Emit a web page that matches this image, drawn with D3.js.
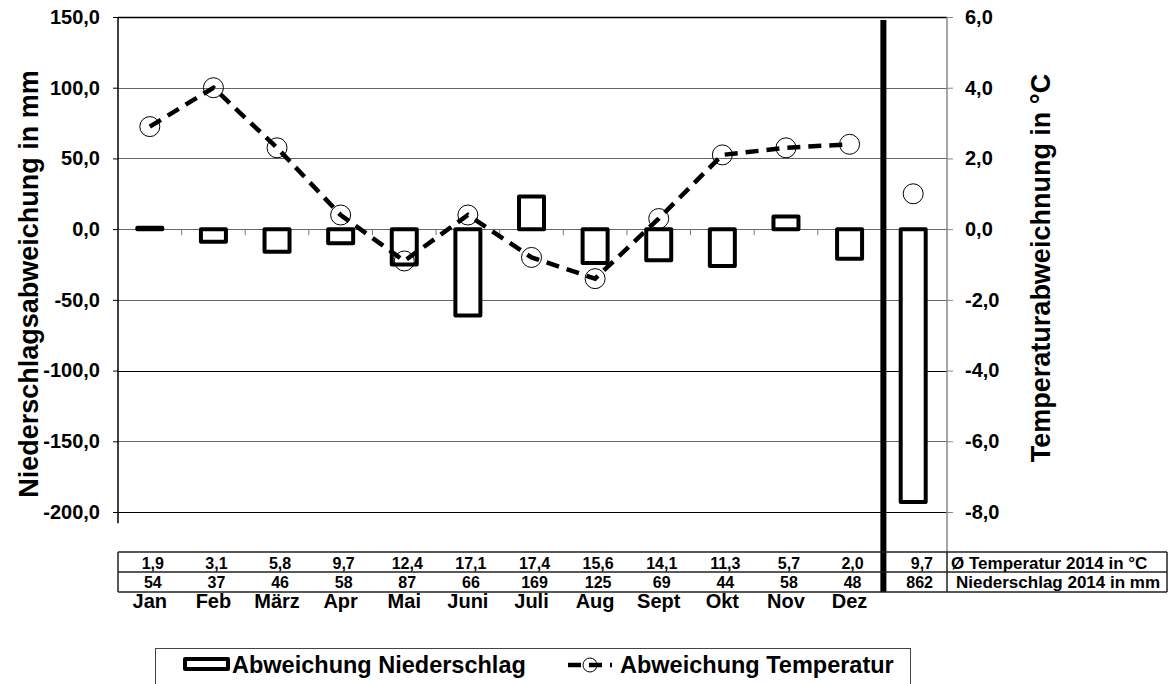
<!DOCTYPE html>
<html>
<head>
<meta charset="UTF-8">
<title>Niederschlag und Temperatur 2014</title>
<style>
  body { margin: 0; background: #fff; }
  svg { display: block; font-family: "Liberation Sans", Arial, sans-serif; }
  svg text { font-weight: bold; fill: #000; }
  .tick text { font-size: 20px; font-weight: bold; fill: #000; }
</style>
<script src="https://cdn.jsdelivr.net/npm/d3@7"></script>
</head>
<body>
<svg width="1172" height="684"></svg>
<script>
// monthly categories + annual column
var months = ["Jan", "Feb", "März", "Apr", "Mai", "Juni", "Juli", "Aug", "Sept", "Okt", "Nov", "Dez"];
var annualKey = "2014";

// deviations
var precipDev = [1, -9, -16, -10, -25, -61, 23, -24, -22, -26, 9, -21];
var precipDevYear = -193;
var tempDev = [2.9, 4.0, 2.3, 0.4, -0.9, 0.4, -0.8, -1.4, 0.3, 2.1, 2.3, 2.4];
var tempDevYear = 1.0;

// table rows under the chart
var tempMean = ["1,9", "3,1", "5,8", "9,7", "12,4", "17,1", "17,4", "15,6", "14,1", "11,3", "5,7", "2,0"];
var tempMeanYear = "9,7";
var precipSum = ["54", "37", "46", "58", "87", "66", "169", "125", "69", "44", "58", "48"];
var precipSumYear = "862";
var rowLabels = ["Ø Temperatur 2014 in °C", "Niederschlag 2014 in mm"];

var leftTicks = [150, 100, 50, 0, -50, -100, -150, -200];
var rightTicks = [6, 4, 2, 0, -2, -4, -6, -8];

var svg = d3.select("svg"),
    pLeft = 118, pRight = 947, pTop = 17, pBottom = 512;

var de = d3.formatLocale({decimal: ",", thousands: ".", grouping: [3], currency: ["", "€"], minus: "-"});
var fmt = de.format(".1f");

var cats = months.concat([annualKey]);
var x = d3.scaleBand().domain(cats).range([pLeft, 945]);
var yL = d3.scaleLinear().domain([-200, 150]).range([pBottom, pTop]);
var yR = d3.scaleLinear().domain([-8, 6]).range([pBottom, pTop]);

// gridlines
svg.append("g").selectAll("line")
    .data(leftTicks)
    .join("line")
    .attr("x1", pLeft).attr("x2", pRight)
    .attr("y1", d => Math.round(yL(d)) + 0.5).attr("y2", d => Math.round(yL(d)) + 0.5)
    .attr("stroke", d => (d === 150 || d === -100 || d === -200) ? "#000" : "#666")
    .attr("stroke-width", d => d === 150 ? 1.5 : 1);

// small ticks on the zero line at category borders
svg.append("g").selectAll("line")
    .data(months.slice(1))
    .join("line")
    .attr("x1", d => x(d)).attr("x2", d => x(d))
    .attr("y1", yL(0)).attr("y2", yL(0) + 6)
    .attr("stroke", "#777").attr("stroke-width", 1);

// left axis
var axL = svg.append("g")
    .attr("transform", "translate(" + pLeft + ",0)")
    .call(d3.axisLeft(yL).tickValues(leftTicks).tickFormat(fmt).tickSize(5).tickPadding(13));
axL.select(".domain").remove();
axL.selectAll(".tick line").attr("stroke", "#000");
svg.append("line")
    .attr("x1", pLeft).attr("x2", pLeft)
    .attr("y1", yL(150)).attr("y2", yL(-208))
    .attr("stroke", "#000").attr("stroke-width", 1.5);

// right axis
var axR = svg.append("g")
    .attr("transform", "translate(" + pRight + ",0)")
    .call(d3.axisRight(yR).tickValues(rightTicks).tickFormat(fmt).tickSize(6).tickPadding(12));
axR.select(".domain").remove();
axR.selectAll(".tick line").attr("stroke", "#888");
svg.append("line")
    .attr("x1", pRight).attr("x2", pRight)
    .attr("y1", yR(6)).attr("y2", 552)
    .attr("stroke", "#888").attr("stroke-width", 1.5);

// precipitation bars
var barW = 25;
var barData = months.map((m, i) => ({k: m, v: precipDev[i]}))
    .concat([{k: annualKey, v: precipDevYear}]);
svg.append("g").selectAll("rect")
    .data(barData)
    .join("rect")
    .attr("x", d => x(d.k) + x.bandwidth() / 2 - barW / 2)
    .attr("y", d => yL(Math.max(0, d.v)))
    .attr("width", barW)
    .attr("height", d => Math.abs(yL(d.v) - yL(0)))
    .attr("fill", "#fff")
    .attr("stroke", "#000")
    .attr("stroke-width", 4)
    .attr("stroke-linejoin", "round");

// temperature line
var tData = months.map((m, i) => ({k: m, v: tempDev[i]}));
var line = d3.line()
    .x(d => x(d.k) + x.bandwidth() / 2)
    .y(d => yR(d.v));
svg.append("path")
    .datum(tData)
    .attr("d", line)
    .attr("fill", "none")
    .attr("stroke", "#000")
    .attr("stroke-width", 4.5)
    .attr("stroke-dasharray", "13,8");

svg.append("g").selectAll("circle")
    .data(tData.concat([{k: annualKey, v: tempDevYear}]))
    .join("circle")
    .attr("cx", d => x(d.k) + x.bandwidth() / 2)
    .attr("cy", d => yR(d.v))
    .attr("r", 10)
    .attr("fill", "none")
    .attr("stroke", "#000")
    .attr("stroke-width", 1);

// thick separator before the annual column
svg.append("rect")
    .attr("x", x(annualKey) - 1).attr("y", 20)
    .attr("width", 6).attr("height", 572)
    .attr("fill", "#000");

// table under the chart
var tb = svg.append("g");
[552, 572, 592].forEach(function (yy) {
  tb.append("line").attr("x1", pLeft).attr("x2", 1167).attr("y1", yy).attr("y2", yy)
    .attr("stroke", "#222").attr("stroke-width", 1.5);
});
[pLeft, pRight, 1167].forEach(function (xx) {
  tb.append("line").attr("x1", xx).attr("x2", xx).attr("y1", 552).attr("y2", 592)
    .attr("stroke", "#222").attr("stroke-width", 1.5);
});

tb.append("g").selectAll("text")
    .data(tempMean)
    .join("text")
    .attr("x", (d, i) => x(months[i]) + x.bandwidth() / 2 + 3)
    .attr("y", 569)
    .attr("text-anchor", "middle")
    .attr("font-size", 16)
    .text(d => d);
tb.append("g").selectAll("text")
    .data(precipSum)
    .join("text")
    .attr("x", (d, i) => x(months[i]) + x.bandwidth() / 2 + 3)
    .attr("y", 588)
    .attr("text-anchor", "middle")
    .attr("font-size", 16)
    .text(d => d);
tb.append("text").attr("x", 933).attr("y", 569).attr("text-anchor", "end")
    .attr("font-size", 16).text(tempMeanYear);
tb.append("text").attr("x", 933).attr("y", 588).attr("text-anchor", "end")
    .attr("font-size", 16).text(precipSumYear);
tb.append("text").attr("x", 951).attr("y", 569)
    .attr("font-size", 17).text(rowLabels[0]);
tb.append("text").attr("x", 1058).attr("y", 588).attr("text-anchor", "middle")
    .attr("font-size", 17).text(rowLabels[1]);

// month labels
svg.append("g").selectAll("text")
    .data(months)
    .join("text")
    .attr("x", d => x(d) + x.bandwidth() / 2)
    .attr("y", 608)
    .attr("text-anchor", "middle")
    .attr("font-size", 20)
    .text(d => d);

// axis titles
svg.append("text")
    .attr("transform", "translate(38,284) rotate(-90)")
    .attr("text-anchor", "middle")
    .attr("font-size", 27)
    .text("Niederschlagsabweichung in mm");
svg.append("text")
    .attr("transform", "translate(1050,268) rotate(-90)")
    .attr("text-anchor", "middle")
    .attr("font-size", 27)
    .text("Temperaturabweichnung in °C");

// legend
var lg = svg.append("g");
lg.append("rect")
    .attr("x", 155.5).attr("y", 648.5).attr("width", 755).attr("height", 60)
    .attr("fill", "none").attr("stroke", "#444").attr("stroke-width", 1);
lg.append("rect")
    .attr("x", 185).attr("y", 659).attr("width", 43).attr("height", 10)
    .attr("fill", "#fff").attr("stroke", "#000").attr("stroke-width", 4)
    .attr("stroke-linejoin", "round");
lg.append("text").attr("x", 232).attr("y", 673).attr("font-size", 23.5)
    .text("Abweichung Niederschlag");
lg.append("line")
    .attr("x1", 568).attr("x2", 612).attr("y1", 665).attr("y2", 665)
    .attr("stroke", "#000").attr("stroke-width", 4.5).attr("stroke-dasharray", "13,8");
lg.append("circle")
    .attr("cx", 590).attr("cy", 665).attr("r", 7)
    .attr("fill", "none").attr("stroke", "#000").attr("stroke-width", 1);
lg.append("text").attr("x", 620).attr("y", 673).attr("font-size", 23.5)
    .text("Abweichung Temperatur");
</script>
</body>
</html>
